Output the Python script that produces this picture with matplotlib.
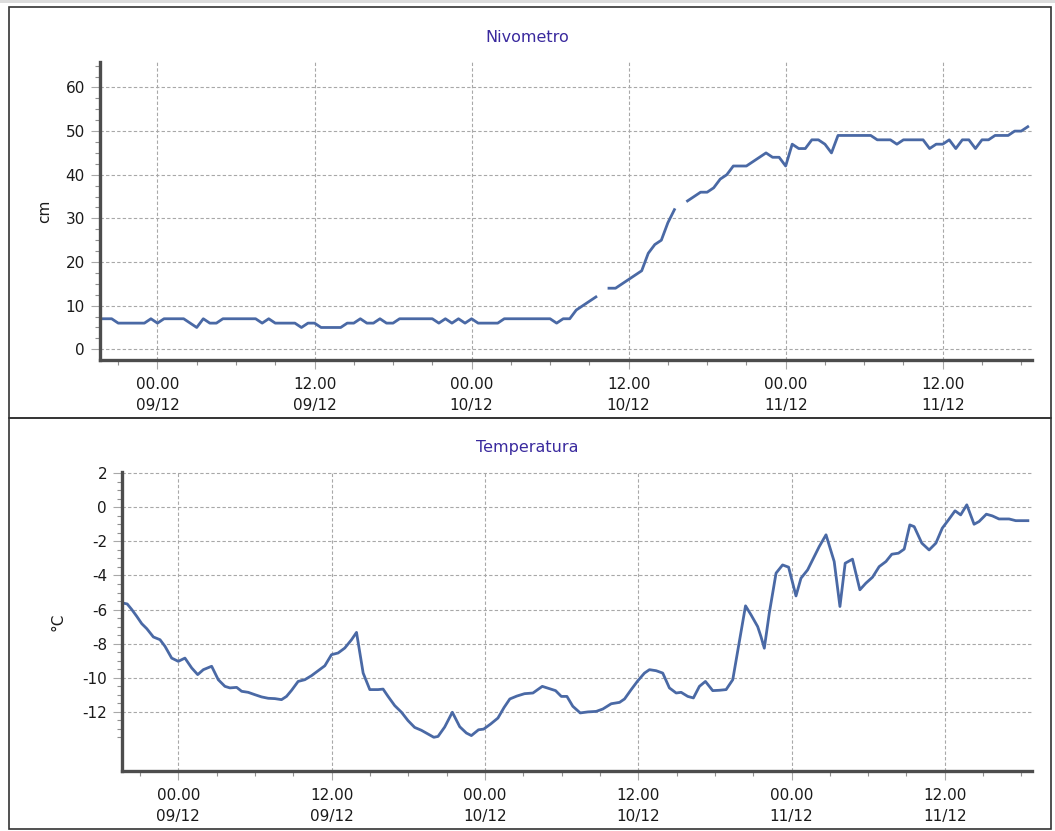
import numpy as np
import pandas as pd
import matplotlib
matplotlib.use('Agg')
import matplotlib.pyplot as plt
import matplotlib.dates as mdates
from matplotlib.patches import Rectangle
from matplotlib.ticker import FixedLocator

plt.rcParams['axes.unicode_minus'] = False

# ore dalle 00:00 del 09/12
base = pd.Timestamp('2020-12-09 00:00')

# Nivometro (cm), nan = dato mancante
neve_ore = [-4.5, -3.5, -3, -1, -0.5, 0, 0.5, 2, 3, 3.5, 4, 4.5, 5, 7.5, 8, 8.5, 9, 10.5,
            11, 11.5, 12, 12.5, 14, 14.5, 15, 15.5, 16, 16.5, 17, 17.5, 18, 18.5, 21, 21.5,
            22, 22.5, 23, 23.5, 24, 24.5, 26, 26.5, 30, 30.5, 31, 31.5, 32, 32.5, 33, 33.5,
            34, 34.5, 35, 35.5, 36, 36.5, 37, 37.5, 38, 38.5, 39, 39.5, 40, 40.5, 41, 41.5,
            42, 42.5, 43, 43.5, 44, 45, 45.5, 46, 46.5, 47, 47.5, 48, 48.5, 49, 49.5, 50,
            50.5, 51, 51.5, 52, 54.5, 55, 55.5, 56, 56.5, 57, 58.5, 59, 59.5, 60, 60.5, 61,
            61.5, 62, 62.5, 63, 63.5, 64, 65, 65.5, 66, 66.5]
neve_cm = [7, 7, 6, 6, 7, 6, 7, 7, 5, 7, 6, 6, 7, 7, 6, 7, 6, 6,
           5, 6, 6, 5, 5, 6, 6, 7, 6, 6, 7, 6, 6, 7, 7, 6,
           7, 6, 7, 6, 7, 6, 6, 7, 7, 6, 7, 7, 9, 10, 11, 12,
           np.nan, 14, 14, 15, 16, 17, 18, 22, 24, 25, 29, 32, np.nan, 34, 35, 36,
           36, 37, 39, 40, 42, 42, 43, 44, 45, 44, 44, 42, 47, 46, 46, 48,
           48, 47, 45, 49, 49, 48, 48, 48, 47, 48, 48, 46, 47, 47, 48, 46,
           48, 48, 46, 48, 48, 49, 49, 50, 50, 51]

# Temperatura (°C)
temp_ore = [-4.45, -4.0, -3.64, -3.25, -2.86, -2.47, -1.95, -1.43, -1.04, -0.52, 0, 0.52,
            1.05, 1.52, 1.96, 2.61, 3.13, 3.65, 4.04, 4.57, 4.96, 5.47, 6.0, 6.52, 7.04,
            7.56, 8.08, 8.47, 8.87, 9.38, 9.9, 10.43, 10.95, 11.47, 11.99, 12.51, 13.03,
            13.56, 13.95, 14.47, 14.99, 15.64, 16.03, 16.42, 16.94, 17.47, 17.98, 18.5,
            19.03, 19.55, 20.0, 20.33, 20.85, 21.45, 22.03, 22.55, 22.94, 23.5, 23.9,
            24.45, 25.02, 25.5, 25.95, 26.5, 27.1, 27.76, 28.49, 29.06, 29.53, 29.98,
            30.42, 30.88, 31.46, 32.06, 32.71, 33.23, 33.89, 34.54, 34.93, 35.45, 35.97,
            36.49, 36.88, 37.4, 37.92, 38.44, 38.97, 39.36, 39.88, 40.32, 40.79, 41.26,
            41.83, 42.35, 42.88, 43.4, 44.4, 44.83, 45.35, 45.61, 45.87, 46.26, 46.79,
            47.3, 47.77, 48.35, 48.74, 49.26, 49.65, 50.17, 50.7, 51.34, 51.79, 52.2,
            52.77, 53.35, 53.82, 54.34, 54.86, 55.39, 55.85, 56.37, 56.82, 57.26, 57.6,
            58.2, 58.77, 59.3, 59.8, 60.33, 60.8, 61.24, 61.72, 62.29, 62.68, 63.25,
            63.72, 64.24, 65.03, 65.55, 66.5]
temp_c = [-5.6, -5.67, -6.0, -6.4, -6.83, -7.12, -7.61, -7.77, -8.16, -8.85, -9.04, -8.85,
          -9.43, -9.82, -9.53, -9.33, -10.12, -10.51, -10.6, -10.57, -10.8, -10.86, -11.0,
          -11.13, -11.21, -11.23, -11.29, -11.1, -10.74, -10.22, -10.12, -9.88, -9.59,
          -9.3, -8.65, -8.55, -8.26, -7.77, -7.34, -9.73, -10.7, -10.7, -10.67, -11.1,
          -11.64, -12.03, -12.52, -12.92, -13.09, -13.31, -13.5, -13.45, -12.9, -12.03,
          -12.88, -13.25, -13.4, -13.06, -13.02, -12.72, -12.37, -11.75, -11.25, -11.08,
          -10.94, -10.9, -10.51, -10.65, -10.76, -11.1, -11.1, -11.68, -12.07, -12.01,
          -11.98, -11.84, -11.53, -11.45, -11.25, -10.7, -10.18, -9.73, -9.53, -9.59,
          -9.73, -10.6, -10.9, -10.86, -11.1, -11.19, -10.51, -10.22, -10.76, -10.74,
          -10.7, -10.12, -5.78, -6.31, -7.0, -7.59, -8.27, -6.21, -3.86, -3.38, -3.51,
          -5.2, -4.16, -3.67, -3.08, -2.3, -1.61, -3.18, -5.82, -3.28, -3.04, -4.84,
          -4.45, -4.1, -3.48, -3.18, -2.75, -2.69, -2.45, -1.03, -1.13, -2.1, -2.5,
          -2.1, -1.22, -0.69, -0.2, -0.44, 0.15, -0.99, -0.83, -0.4, -0.5, -0.68,
          -0.68, -0.78, -0.78]

neve_t = base + pd.to_timedelta(neve_ore, unit='h')
temp_t = base + pd.to_timedelta(temp_ore, unit='h')

col_linea = '#4a69a5'
col_titolo = '#3a2a9e'
col_testo = '#1a1a1a'
col_griglia = '#a8a8a8'
col_asse = '#4d4d4d'

fig = plt.figure(figsize=(10.55, 8.31), dpi=100)
W, H = 1055, 831

def box(x0, y0, x1, y1):
    return [x0 / W, 1 - y1 / H, (x1 - x0) / W, (y1 - y0) / H]

ax1 = fig.add_axes(box(99.5, 61.7, 1031.7, 360))
ax2 = fig.add_axes(box(121.7, 472.3, 1031.7, 771))

def stile(ax, ylab, ylim, maj, minor, ylab_x):
    ax.set_xlim(base - pd.Timedelta(hours=4.43), base + pd.Timedelta(hours=66.8))
    ax.set_ylim(*ylim)
    ax.xaxis.set_major_locator(mdates.HourLocator(byhour=[0, 12]))
    ax.xaxis.set_minor_locator(mdates.HourLocator(byhour=range(0, 24, 3)))
    ax.xaxis.set_major_formatter(mdates.DateFormatter('%H.%M\n%d/%m'))
    ax.yaxis.set_major_locator(FixedLocator(maj))
    ax.yaxis.set_minor_locator(FixedLocator(minor))
    for s in ['top', 'right']:
        ax.spines[s].set_visible(False)
    for s in ['left', 'bottom']:
        ax.spines[s].set_color(col_asse)
        ax.spines[s].set_linewidth(2.4)
    ax.grid(True, which='major', color=col_griglia, linestyle=(0, (3, 2)), linewidth=0.8)
    ax.tick_params(axis='both', which='major', length=6.5, width=0.8, color=col_griglia,
                   labelsize=11, labelcolor=col_testo)
    ax.tick_params(axis='both', which='minor', length=3.5, width=0.8, color='#909090')
    ax.tick_params(axis='x', which='major', pad=6)
    ax.tick_params(axis='y', which='major', pad=4)
    for lab in ax.get_xticklabels():
        lab.set_linespacing(1.45)
    ax.set_ylabel(ylab, fontsize=11, color=col_testo)
    ax.yaxis.set_label_coords(ylab_x, 0.5)

ax1.plot(neve_t, neve_cm, color=col_linea, linewidth=2.0)
stile(ax1, 'cm', (-2.45, 65.9), np.arange(0, 61, 10), np.arange(0, 65.1, 2.5), -0.051)

ax2.plot(temp_t, temp_c, color=col_linea, linewidth=2.0)
stile(ax2, '°C', (-15.48, 2.06), np.arange(-12, 2.1, 2), np.arange(-13.5, 2.1, 0.5), -0.062)

fig.text(527 / W, 1 - 37 / H, 'Nivometro', ha='center', va='center', fontsize=11.5,
         color=col_titolo)
fig.text(527 / W, 1 - 448 / H, 'Temperatura', ha='center', va='center', fontsize=11.5,
         color=col_titolo)

# cornici dei due pannelli
fig.add_artist(Rectangle((0, 1 - 3 / H), 1, 3 / H, transform=fig.transFigure,
                         facecolor='#dcdcdc', edgecolor='none'))
for y0, y1 in [(7, 418), (418, 829)]:
    x, y, w, h = box(8.5, y0, 1051, y1)
    fig.add_artist(Rectangle((x, y), w, h, transform=fig.transFigure, fill=False,
                             edgecolor='#333333', linewidth=1.2))

plt.savefig('out.png', dpi=100)
